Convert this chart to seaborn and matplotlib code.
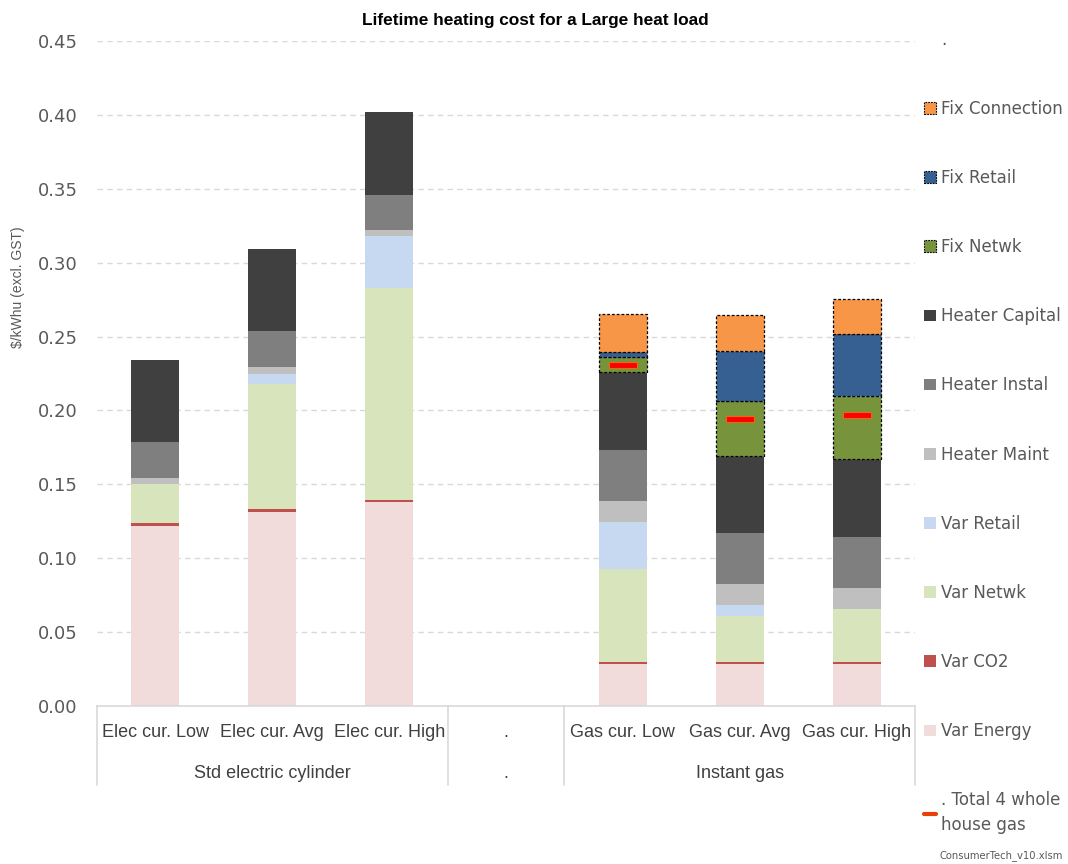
import numpy as np
import pandas as pd
import matplotlib
matplotlib.use("Agg")
import matplotlib.pyplot as plt
from matplotlib.patches import Patch
from matplotlib.lines import Line2D
import matplotlib.transforms as mtransforms
import seaborn as sns

# ---------------- data ----------------
categories = ["Elec cur. Low", "Elec cur. Avg", "Elec cur. High", ".",
              "Gas cur. Low", "Gas cur. Avg", "Gas cur. High"]
groups = ["Std electric cylinder", ".", "Instant gas"]
group_spans = [(0, 2), (3, 3), (4, 6)]

var_energy     = [0.1215, 0.1315, 0.1380, 0, 0.0285, 0.0285, 0.0285]
var_co2        = [0.0020, 0.0015, 0.0015, 0, 0.0015, 0.0015, 0.0015]
var_netwk      = [0.0270, 0.0850, 0.1435, 0, 0.0627, 0.0310, 0.0356]
var_retail     = [0.0000, 0.0065, 0.0350, 0, 0.0320, 0.0072, 0.0000]
heater_maint   = [0.0035, 0.0050, 0.0040, 0, 0.0143, 0.0144, 0.0144]
heater_instal  = [0.0246, 0.0245, 0.0240, 0, 0.0344, 0.0343, 0.0343]
heater_capital = [0.0554, 0.0550, 0.0557, 0, 0.0524, 0.0522, 0.0526]
fix_netwk      = [0, 0, 0, 0, 0.0102, 0.0376, 0.0428]
fix_retail     = [0, 0, 0, 0, 0.0037, 0.0336, 0.0418]
fix_connection = [0, 0, 0, 0, 0.0253, 0.0241, 0.0239]

total_whole_house_gas = [np.nan, np.nan, np.nan, np.nan, 0.2310, 0.1944, 0.1966]

components = [
    ("Var Energy", var_energy, "#F2DCDB", False),
    ("Var CO2", var_co2, "#C0504D", False),
    ("Var Netwk", var_netwk, "#D7E4BC", False),
    ("Var Retail", var_retail, "#C6D9F0", False),
    ("Heater Maint", heater_maint, "#BFBFBF", False),
    ("Heater Instal", heater_instal, "#7F7F7F", False),
    ("Heater Capital", heater_capital, "#404040", False),
    ("Fix Netwk", fix_netwk, "#77933C", True),
    ("Fix Retail", fix_retail, "#366092", True),
    ("Fix Connection", fix_connection, "#F79646", True),
]

# ---------------- style ----------------
sns.set_style("white")
plt.rcParams["font.family"] = ["DejaVu Sans"]
grey_txt = "#595959"

fig = plt.figure(figsize=(10.68, 8.64), dpi=100)
ax = fig.add_axes([97 / 1068, 1 - 706 / 864, (915 - 97) / 1068, (706 - 41) / 864])

bottom = np.zeros(len(categories))
dash = (0, (2.2, 1.6))
for name, vals, col, fixed in components:
    vals = np.asarray(vals, dtype=float)
    df = pd.DataFrame({"cat": categories, "val": vals})
    kw = dict(edgecolor="black", linewidth=0.9, linestyle=dash) if fixed else dict(linewidth=0)
    n_before = len(ax.patches)
    sns.barplot(data=df, x="cat", y="val", order=categories, color=col,
                width=0.41, errorbar=None, bottom=bottom.copy(), ax=ax,
                saturation=1, **kw)
    for p in ax.patches[n_before:]:
        if p.get_height() <= 0:
            p.set_visible(False)
    bottom += vals

# marker for total whole house gas
xpos = np.arange(len(categories))
mdf = pd.DataFrame({"x": xpos, "y": total_whole_house_gas}).dropna()
rect = [(-1, -0.2), (1, -0.2), (1, 0.2), (-1, 0.2), (-1, -0.2)]
sns.scatterplot(data=mdf, x="x", y="y", marker=rect, s=420, color="#FF0000",
                edgecolor="#E46C0A", linewidth=0.8, ax=ax, zorder=5)

# axes styling
ax.set_xlim(-0.5, len(categories) - 0.5)
ax.set_ylim(0, 0.45)
ax.set_yticks(np.arange(0, 0.451, 0.05))
ax.set_yticklabels([f"{v:.2f}" for v in np.arange(0, 0.451, 0.05)])
ax.yaxis.grid(True, color="#D9D9D9", linestyle=(0, (4, 3)), linewidth=1)
ax.xaxis.grid(False)
ax.set_axisbelow(True)
for s in ["top", "right", "left"]:
    ax.spines[s].set_visible(False)
ax.spines["bottom"].set_color("#D9D9D9")
ax.spines["bottom"].set_linewidth(1.2)
ax.tick_params(axis="y", length=0, pad=14, labelsize=13, labelcolor=grey_txt)
ax.tick_params(axis="x", length=0, pad=13, labelsize=13, labelcolor="#404040")
for lab in ax.get_xticklabels():
    lab.set_fontfamily("Liberation Sans")
ax.set_xlabel("")
ax.set_ylabel("")

# multi-level category separators
trans = mtransforms.blended_transform_factory(ax.transData, ax.transAxes)
ybot = -(785 - 706) / 665
for xs in [-0.5, 2.5, 3.5, 6.5]:
    ax.plot([xs, xs], [0, ybot], transform=trans, color="#D9D9D9", lw=1.2, clip_on=False)
for g, (a, b) in zip(groups, group_spans):
    ax.text((a + b) / 2, -(773 - 706) / 665, g, transform=trans, ha="center", va="center",
            fontsize=13, color="#404040", family="Liberation Sans")

# title, y label, footer
fig.text(535 / 1068, 1 - 20 / 864, "Lifetime heating cost for a Large heat load",
         ha="center", va="center", fontsize=12.4, fontweight="bold", family="Liberation Sans",
         color="black")
fig.text(18 / 1068, 1 - 287 / 864, "$/kWhu (excl. GST)", rotation=90, ha="center", va="center",
         fontsize=10, color=grey_txt, family="Liberation Sans")
fig.text(1063 / 1068, 1 - 856 / 864, "ConsumerTech_v10.xlsm", ha="right", va="center",
         fontsize=7.2, color=grey_txt)

# legend
handles = [Patch(facecolor="none", edgecolor="none")]
labels = ["."]
for name, vals, col, fixed in reversed(components):
    if fixed:
        handles.append(Patch(facecolor=col, edgecolor="black", linewidth=0.8, linestyle=(0, (1.5, 1))))
    else:
        handles.append(Patch(facecolor=col, edgecolor="none"))
    labels.append(name)
handles.append(Line2D([], [], color="#E8400A", lw=3))
labels.append(". Total 4 whole\nhouse gas")
leg = fig.legend(handles, labels, loc="upper left", bbox_to_anchor=(917 / 1068, 1 - 24 / 864),
                 bbox_transform=fig.transFigure, frameon=False, fontsize=12,
                 labelcolor=grey_txt, handlelength=0.75, handleheight=0.7,
                 handletextpad=0.3, labelspacing=3.07, borderaxespad=0)
leg.get_texts()[-1].set_linespacing(1.45)

fig.savefig("out.png", dpi=100)
